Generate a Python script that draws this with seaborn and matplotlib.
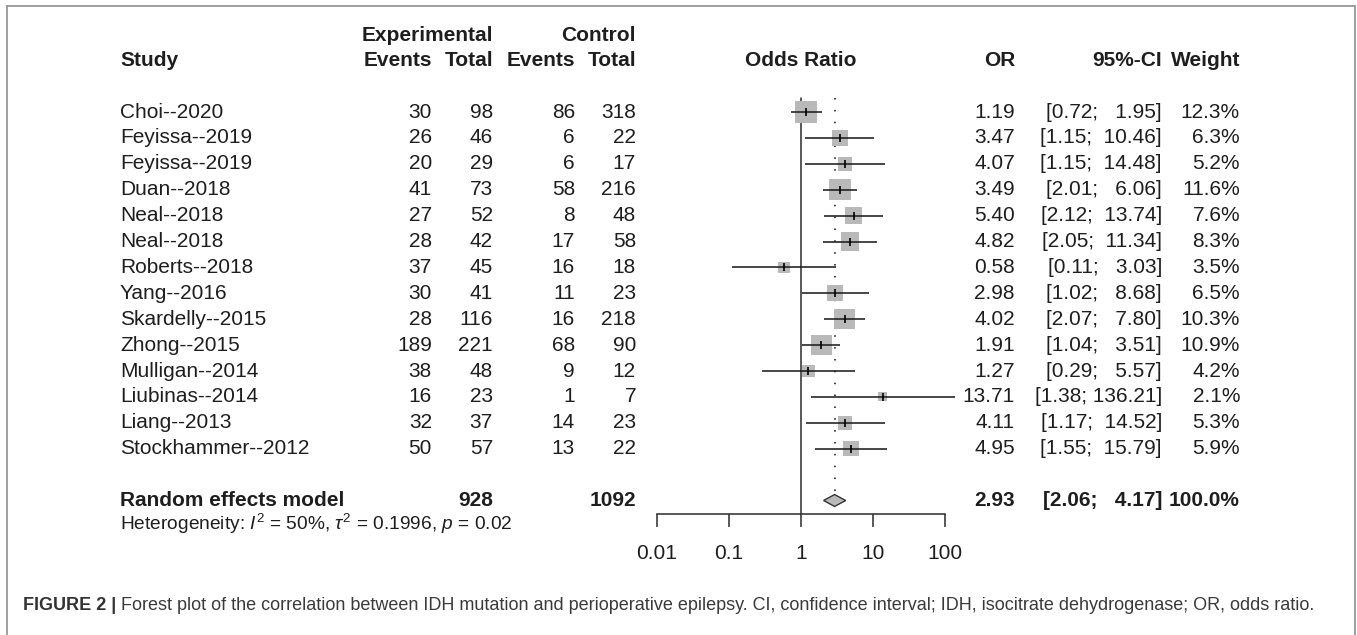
import matplotlib.pyplot as plt
import matplotlib.transforms as mtransforms
from matplotlib.lines import Line2D
import pandas as pd
import seaborn as sns

# Study data
studies = ["Choi--2020", "Feyissa--2019", "Feyissa--2019", "Duan--2018", "Neal--2018",
           "Neal--2018", "Roberts--2018", "Yang--2016", "Skardelly--2015", "Zhong--2015",
           "Mulligan--2014", "Liubinas--2014", "Liang--2013", "Stockhammer--2012"]
exp_events = [30, 26, 20, 41, 27, 28, 37, 30, 28, 189, 38, 16, 32, 50]
exp_total = [98, 46, 29, 73, 52, 42, 45, 41, 116, 221, 48, 23, 37, 57]
ctrl_events = [86, 6, 6, 58, 8, 17, 16, 11, 16, 68, 9, 1, 14, 13]
ctrl_total = [318, 22, 17, 216, 48, 58, 18, 23, 218, 90, 12, 7, 23, 22]
odds_ratio = [1.19, 3.47, 4.07, 3.49, 5.40, 4.82, 0.58, 2.98, 4.02, 1.91, 1.27, 13.71, 4.11, 4.95]
ci_lower = [0.72, 1.15, 1.15, 2.01, 2.12, 2.05, 0.11, 1.02, 2.07, 1.04, 0.29, 1.38, 1.17, 1.55]
ci_upper = [1.95, 10.46, 14.48, 6.06, 13.74, 11.34, 3.03, 8.68, 7.80, 3.51, 5.57, 136.21, 14.52, 15.79]
weight = [12.3, 6.3, 5.2, 11.6, 7.6, 8.3, 3.5, 6.5, 10.3, 10.9, 4.2, 2.1, 5.3, 5.9]

pooled_label = "Random effects model"
pooled_exp_total = 928
pooled_ctrl_total = 1092
pooled_or = 2.93
pooled_lower = 2.06
pooled_upper = 4.17
pooled_weight = 100.0

x_ticks = [0.01, 0.1, 1, 10, 100]
x_ticklabels = ["0.01", "0.1", "1", "10", "100"]

heterogeneity = r"Heterogeneity: $\mathit{I}^2$ = 50%, $\tau^2$ = 0.1996, $\mathit{p}$ = 0.02"
caption_bold = "FIGURE 2 |"
caption_text = (" Forest plot of the correlation between IDH mutation and perioperative epilepsy. "
                "CI, confidence interval; IDH, isocitrate dehydrogenase; OR, odds ratio.")

df = pd.DataFrame({"study": studies, "OR": odds_ratio, "lower": ci_lower,
                   "upper": ci_upper, "weight": weight})
df["row"] = range(len(df))

sns.set_style("white")
plt.rcParams["font.family"] = ["Liberation Sans", "DejaVu Sans"]
plt.rcParams["mathtext.fontset"] = "custom"
plt.rcParams["mathtext.rm"] = "Liberation Sans"
plt.rcParams["mathtext.it"] = "Liberation Sans:italic"
plt.rcParams["mathtext.bf"] = "Liberation Sans:bold"

W, H = 1357, 635
fig = plt.figure(figsize=(W / 100, H / 100), dpi=100)

# layout in pixels: first row at y=112, row step 25.9
row0, step = 112, 25.9
top_row, bottom_row = -3.5, 17.5
ax_top = row0 + step * top_row
ax_bot = row0 + step * bottom_row
ax = fig.add_axes([657 / W, 1 - ax_bot / H, 288 / W, (ax_bot - ax_top) / H])
ax.set_xscale("log")
ax.set_xlim(0.01, 100)
ax.set_ylim(bottom_row, top_row)

ink = "#1e1e1e"
box_grey = "#b9b9b9"

# squares sized by weight (area proportional to weight)
area_per_weight = 20.4
sns.scatterplot(data=df, x="OR", y="row", size="weight",
                sizes=(area_per_weight * min(weight), area_per_weight * max(weight)),
                marker="s", color=box_grey, linewidth=0, legend=False, ax=ax,
                zorder=2, clip_on=False)
# confidence intervals
ax.hlines(df["row"], df["lower"], df["upper"], color=ink, lw=1.15, zorder=3, clip_on=False)
ax.scatter(df["OR"], df["row"], marker="|", s=30, color="black", lw=1.2, zorder=4, clip_on=False)

# pooled estimate diamond
pooled_row = 15
dh = 0.23
ax.fill([pooled_lower, pooled_or, pooled_upper, pooled_or],
        [pooled_row, pooled_row - dh, pooled_row, pooled_row + dh],
        facecolor=box_grey, edgecolor="#333333", lw=1.0, zorder=3)

axis_row = (514 - row0) / step
line_top = (98 - row0) / step
ax.plot([1, 1], [line_top, axis_row], color="#333333", lw=1.15, zorder=1, clip_on=False)
ax.plot([pooled_or, pooled_or], [line_top, pooled_row - dh], color="#444444",
        lw=1.4, ls=(0, (0.8, 5.3)), zorder=1)

# x axis as a floating bottom spine
for side in ["top", "left", "right"]:
    ax.spines[side].set_visible(False)
ax.spines["bottom"].set_position(("data", axis_row))
ax.spines["bottom"].set_color("#333333")
ax.spines["bottom"].set_linewidth(1.15)
ax.set_xticks(x_ticks)
ax.set_xticklabels(x_ticklabels)
ax.minorticks_off()
ax.tick_params(axis="x", direction="out", length=9.4, width=1.15, color="#333333",
               labelsize=15, labelcolor=ink, pad=12, bottom=True)
ax.set_yticks([])
ax.set_xlabel("")
ax.set_ylabel("")
ax.patch.set_alpha(0)

# text table, x in figure pixels, y in row units
tr = mtransforms.blended_transform_factory(fig.transFigure, ax.transData)
fs = 15


def put(x_px, row, s, ha="right", bold=False, size=fs):
    ax.text(x_px / W, row, s, transform=tr, ha=ha, va="center", fontsize=size,
            fontweight="bold" if bold else "normal", color=ink, clip_on=False)


col_study, col_ee, col_et, col_ce, col_ct = 120, 432, 493, 575, 636
col_or, col_ci, col_w = 1015, 1162, 1240
h1 = (35 - row0) / step
h2 = (60 - row0) / step

put(col_study, h2, "Study", ha="left", bold=True)
put(col_et, h1, "Experimental", bold=True)
put(col_ct, h1, "Control", bold=True)
put(col_ee, h2, "Events", bold=True)
put(col_et, h2, "Total", bold=True)
put(col_ce, h2, "Events", bold=True)
put(col_ct, h2, "Total", bold=True)
put(801, h2, "Odds Ratio", ha="center", bold=True)
put(col_or, h2, "OR", bold=True)
put(col_ci, h2, "95%-CI", bold=True)
put(col_w, h2, "Weight", bold=True)

for i in range(len(studies)):
    put(col_study, i, studies[i], ha="left")
    put(col_ee, i, str(exp_events[i]))
    put(col_et, i, str(exp_total[i]))
    put(col_ce, i, str(ctrl_events[i]))
    put(col_ct, i, str(ctrl_total[i]))
    put(col_or, i, f"{odds_ratio[i]:.2f}")
    put(col_ci, i, f"[{ci_lower[i]:4.2f}; {ci_upper[i]:6.2f}]")
    put(col_w, i, f"{weight[i]:.1f}%")

put(col_study, pooled_row, pooled_label, ha="left", bold=True)
put(col_et, pooled_row, str(pooled_exp_total), bold=True)
put(col_ct, pooled_row, str(pooled_ctrl_total), bold=True)
put(col_or, pooled_row, f"{pooled_or:.2f}", bold=True)
put(col_ci, pooled_row, f"[{pooled_lower:4.2f}; {pooled_upper:6.2f}]", bold=True)
put(col_w, pooled_row, f"{pooled_weight:.1f}%", bold=True)
put(col_study, (524 - row0) / step, heterogeneity, ha="left", size=13.8)

# caption
cap_y = 1 - 606 / H
cap_fs = 13.0
t_bold = fig.text(23 / W, cap_y, caption_bold, ha="left", va="center", fontsize=cap_fs,
                  fontweight="bold", color="#333333")
renderer = fig.canvas.get_renderer()
bb = t_bold.get_window_extent(renderer=renderer)
fig.text(bb.x1 / W, cap_y, caption_text, ha="left", va="center", fontsize=cap_fs,
         color="#3a3a3a")

# frame around the figure panel (open at the bottom)
frame_c = "#8f8f8f"
fig.add_artist(Line2D([7 / W, 7 / W], [0, 1 - 6 / H], color=frame_c, lw=1.2))
fig.add_artist(Line2D([1355 / W, 1355 / W], [0, 1 - 6 / H], color=frame_c, lw=1.2))
fig.add_artist(Line2D([7 / W, 1355 / W], [1 - 6 / H, 1 - 6 / H], color=frame_c, lw=1.2))

fig.savefig("out.png", dpi=100)
plt.close(fig)
